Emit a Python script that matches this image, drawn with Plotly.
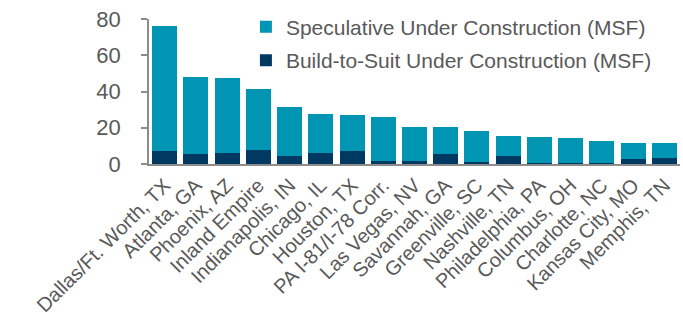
import plotly.graph_objects as go

markets = ["Dallas/Ft. Worth, TX", "Atlanta, GA", "Phoenix, AZ", "Inland Empire",
           "Indianapolis, IN", "Chicago, IL", "Houston, TX", "PA I-81/I-78 Corr.",
           "Las Vegas, NV", "Savannah, GA", "Greenville, SC", "Nashville, TN",
           "Philadelphia, PA", "Columbus, OH", "Charlotte, NC", "Kansas City, MO",
           "Memphis, TN"]
speculative = [69.3, 42.5, 41.7, 33.6, 27.0, 21.6, 20.1, 24.4, 18.8, 15.1,
               16.8, 11.2, 14.7, 13.5, 12.1, 9.3, 8.6]
build_to_suit = [6.9, 5.5, 5.8, 8.0, 4.4, 5.8, 6.9, 1.4, 1.8, 5.3,
                 1.3, 4.5, 0.3, 0.7, 0.7, 2.5, 3.1]
y_ticks = [0, 20, 40, 60, 80]

TEAL = "#0095B2"
NAVY = "#003A63"
GRAY = "#595959"
LINE = "#8C8C8C"
FONT = "Liberation Sans, Arial, sans-serif"

fig = go.Figure()
fig.add_trace(go.Bar(x=markets, y=build_to_suit, name="Build-to-Suit Under Construction (MSF)",
                     marker=dict(color=NAVY, line=dict(width=0)), legendgroup="b",
                     legendrank=2))
fig.add_trace(go.Bar(x=markets, y=speculative, name="Speculative Under Construction (MSF)",
                     marker=dict(color=TEAL, line=dict(width=0)), legendgroup="a",
                     legendrank=1))

fig.update_layout(
    width=683, height=320,
    margin=dict(l=149, r=3, t=19, b=156, autoexpand=False),
    barmode="stack", bargap=0.2,
    plot_bgcolor="white", paper_bgcolor="white",
    font=dict(family=FONT, color=GRAY, size=20),
    showlegend=True,
    legend=dict(x=0.1825, y=1.085, xanchor="left", yanchor="top",
                bgcolor="rgba(0,0,0,0)", traceorder="grouped",
                tracegroupgap=3, font=dict(size=21, color=GRAY, family=FONT)),
    xaxis=dict(showline=True, linecolor=LINE, linewidth=1.5, ticks="", automargin=False,
               tickangle=-45, tickfont=dict(size=20, color=GRAY), showgrid=False),
    yaxis=dict(range=[0, 80], tickvals=y_ticks, showline=True, linecolor=LINE,
               linewidth=1.5, ticks="outside", ticklen=6, tickcolor=LINE, tickwidth=1.5,
               showgrid=False, zeroline=False, tickfont=dict(size=22, color=GRAY),
               ticklabelstandoff=16, automargin=False),
)

fig.write_html("out.html")
